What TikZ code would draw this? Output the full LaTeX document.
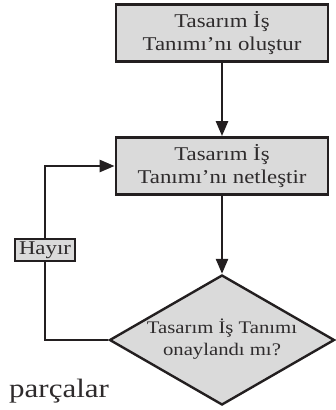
\documentclass[tikz,border=0pt]{standalone}
\usepackage{fontspec}
\setmainfont{Liberation Serif}
\usetikzlibrary{arrows.meta,shapes.geometric}
\definecolor{inkc}{HTML}{231F20}
\definecolor{textc}{HTML}{2E2B2C}
\definecolor{boxfill}{HTML}{DADADA}
% the lettering is set a little wider than the font's own proportions
\newcommand{\widetxt}[1]{\scalebox{1.17}[1]{#1}}
\begin{document}
\begin{tikzpicture}[x=1pt,y=-1pt,
  stepbox/.style={draw=inkc, fill=boxfill, line width=2.8pt, minimum width=212pt,
    minimum height=57pt, align=center, inner sep=0pt, text=textc,
    font=\fontsize{19.5}{23}\selectfont},
  decision/.style={draw=inkc, fill=boxfill, diamond, line width=2.4pt,
    minimum width=225pt, minimum height=130pt, inner sep=0pt},
  dectext/.style={align=center, text=textc, font=\fontsize{17.7}{22}\selectfont},
  tagbox/.style={draw=inkc, fill=boxfill, line width=2.6pt, minimum width=60pt,
    minimum height=22pt, inner sep=1pt, text=textc, font=\fontsize{19.5}{23}\selectfont},
  conn/.style={draw=inkc, line width=2.6pt},
  tip/.style={-{Triangle[length=15pt,width=12pt]}}]
\useasboundingbox (0,0) rectangle (335,410);

% process boxes
\node[stepbox] (olustur) at (222,33)
  {\widetxt{Tasarım İş}\\\widetxt{Tanımı’nı oluştur}};
\node[stepbox] (netlestir) at (222,166)
  {\widetxt{Tasarım İş}\\\widetxt{Tanımı’nı netleştir}};

% decision
\node[decision] (karar) at (222,340) {};
\node[dectext] (kararmetni) at (222,339)
  {\widetxt{Tasarım İş Tanımı}\\\widetxt{onaylandı mı?}};

% "no" branch label
\node[tagbox] (hayir) at (45,250) {\widetxt{Hayır}};

% connectors
\draw[conn, tip] (olustur) -- (netlestir);
\draw[conn, tip] (netlestir) -- (karar);
\draw[conn] (karar.west) -| (hayir.south);
\draw[conn, tip] (hayir.north) |- (netlestir.west);

% loose caption text
\node[anchor=base west, inner sep=0pt, text=textc, font=\fontsize{26.5}{32}\selectfont]
  (parcalar) at (9,397) {\widetxt{parçalar}};
\end{tikzpicture}
\end{document}
